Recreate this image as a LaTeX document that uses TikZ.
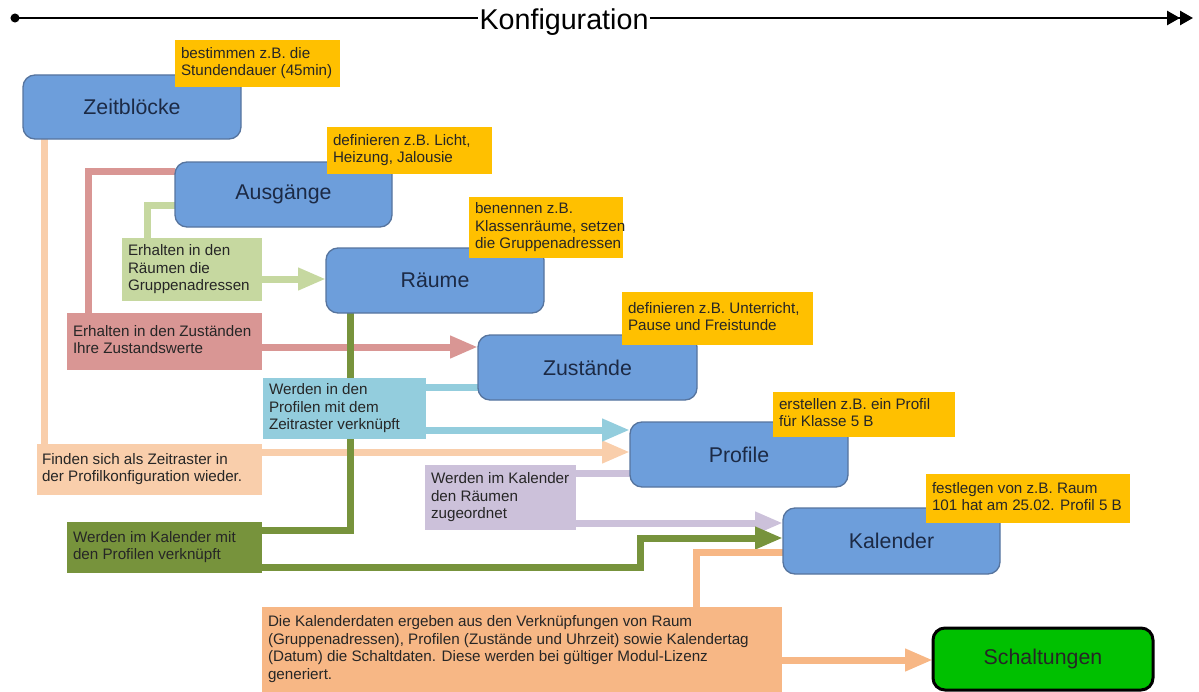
\documentclass[tikz,border=0pt]{standalone}
\usepackage{fontspec}
\setmainfont{Liberation Sans}
\usetikzlibrary{arrows.meta,backgrounds}
\newdimen\upx \upx=0.75pt
\newcommand\bxt[2]{\makebox[#1\upx][l]{\begin{tabular}{@{}l@{}}#2\end{tabular}}}
\definecolor{blkfill}{HTML}{6D9EDB}
\definecolor{blkdraw}{HTML}{56749E}
\definecolor{blktext}{HTML}{1C2A45}
\definecolor{labyel}{HTML}{FFC000}
\definecolor{clg}{HTML}{C6D8A0}
\definecolor{crd}{HTML}{D99694}
\definecolor{clb}{HTML}{93CDDD}
\definecolor{cpe}{HTML}{F9CEAB}
\definecolor{clv}{HTML}{CCC1DA}
\definecolor{cdg}{HTML}{77933C}
\definecolor{cor}{HTML}{F7B785}
\definecolor{csch}{HTML}{00C000}
\begin{document}
\begin{tikzpicture}[x=0.75pt,y=-0.75pt,
  blk/.style={draw=blkdraw, line width=1pt, fill=blkfill, rounded corners=9pt,
    text=blktext, font=\fontsize{16}{19}\selectfont, inner sep=0pt, outer sep=0pt, anchor=north west},
  lab/.style={fill=labyel, anchor=north west, inner xsep=4.5pt, inner ysep=0pt, outer sep=0pt,
    font=\fontsize{11.4}{13.3}\selectfont, text=black!85},
  desc/.style={lab, fill=#1},
  conn/.style={line width=5.25pt, draw=#1},
  arr/.style={-{Triangle[length=21pt,width=15.75pt]}},
  titleline/.style={line width=2pt, draw=black}
]
\useasboundingbox (0,0) rectangle (1199,692);

% title
\node[anchor=base, inner xsep=0.75pt, inner ysep=0pt, font=\fontsize{21.5}{25}\selectfont] (title) at (564,30) {Konfiguration};
\coordinate (tstart) at (15,18);
\coordinate (tend) at (1193,18);
\fill (tstart) circle (3.4pt);
\draw[titleline] (tstart) -- (title.west |- tstart);
\draw[titleline, -{Triangle[length=9.75pt,width=10.5pt]Triangle[length=9.75pt,width=10.5pt]}] (title.east |- tend) -- (tend);

% main blocks
\node[blk, minimum width=218\upx, minimum height=64\upx] (zb) at (23,75) {Zeitblöcke};
\node[blk, minimum width=217\upx, minimum height=65\upx] (aus) at (175,162) {Ausgänge};
\node[blk, minimum width=218\upx, minimum height=65\upx] (rau) at (326,248) {Räume};
\node[blk, minimum width=219\upx, minimum height=65\upx] (zus) at (478,335) {Zustände};
\node[blk, minimum width=218\upx, minimum height=65\upx] (prof) at (630,422) {Profile};
\node[blk, minimum width=217\upx, minimum height=66\upx] (kal) at (783,508) {Kalender};
\node[blk, draw=black, line width=2.25pt, fill=csch, text=black!85, minimum width=220\upx, minimum height=62\upx] (sch) at (933,628) {Schaltungen};

% yellow labels
\node[lab, minimum height=47\upx] (l1) at (175,40) {\bxt{153}{bestimmen z.B. die\\Stundendauer (45min)}};
\node[lab, minimum height=47\upx] (l2) at (327,127) {\bxt{153}{definieren z.B. Licht,\\Heizung, Jalousie}};
\node[lab, minimum height=61\upx] (l3) at (469,197) {\bxt{142}{benennen z.B.\\Klassenräume, setzen\\die Gruppenadressen}};
\node[lab, minimum height=53\upx] (l4) at (622,292) {\bxt{179}{definieren z.B. Unterricht,\\Pause und Freistunde}};
\node[lab, minimum height=45\upx] (l5) at (773,392) {\bxt{170}{erstellen z.B. ein Profil\\für Klasse 5 B}};
\node[lab, minimum height=49\upx] (l6) at (926,474) {\bxt{192}{festlegen von z.B. Raum\\101 hat am 25.02. Profil 5 B}};

% description boxes
\node[desc=clg, minimum height=63\upx] (lg) at (122,238) {\bxt{128}{Erhalten in den\\Räumen die\\Gruppenadressen}};
\node[desc=crd, minimum height=57\upx] (rd) at (67,313) {\bxt{183}{Erhalten in den Zuständen\\Ihre Zustandswerte}};
\node[desc=clb, minimum height=61\upx] (lb) at (263,378) {\bxt{151}{Werden in den\\Profilen mit dem\\Zeitraster verknüpft}};
\node[desc=cpe, inner xsep=3.75pt, minimum height=51\upx] (pe) at (37,444) {\bxt{215}{Finden sich als Zeitraster in\\der Profilkonfiguration wieder.}};
\node[desc=clv, minimum height=65\upx] (lv) at (425,465) {\bxt{139}{Werden im Kalender\\den Räumen\\zugeordnet}};
\node[desc=cdg, minimum height=51\upx] (dg) at (67,522) {\bxt{183}{Werden im Kalender mit\\den Profilen verknüpft}};
\node[desc=cor, minimum height=85\upx] (orb) at (262,607) {\bxt{508}{Die Kalenderdaten ergeben aus den Verknüpfungen von Raum\\(Gruppenadressen), Profilen (Zustände und Uhrzeit) sowie Kalendertag\\(Datum) die Schaltdaten. Diese werden bei gültiger Modul-Lizenz\\generiert.}};

% connectors
\begin{scope}[on background layer]
  \draw[conn=cpe] (zb.south -| 44,0) -- (pe.north -| 44,0);
  \draw[conn=cpe, arr] (pe.east |- 0,452) -- (prof.west |- 0,452);
  \draw[conn=crd] (aus.west |- 0,171) -| (rd.north -| 88,0);
  \draw[conn=crd, arr] (rd.east |- 0,347) -- (zus.west |- 0,347);
  \draw[conn=clg] (aus.west |- 0,205) -| (lg.north -| 147,0);
  \draw[conn=clg, arr] (lg.east |- 0,279) -- (rau.west |- 0,279);
  \draw[conn=clb] (zus.west |- 0,387) -- (lb.east |- 0,387);
  \draw[conn=clb, arr] (lb.east |- 0,430) -- (prof.west |- 0,430);
  \draw[conn=clv] (prof.west |- 0,473) -- (lv.east |- 0,473);
  \draw[conn=clv, arr] (lv.east |- 0,523) -- (kal.west |- 0,523);
  \draw[conn=cdg] (rau.south -| 350,0) |- (dg.east |- 0,530);
  \draw[conn=cdg, arr] (dg.east |- 0,567) -| (640,538) -- (kal.west |- 0,538);
  \draw[conn=cor] (kal.west |- 0,552) -| (orb.north -| 696,0);
  \draw[conn=cor, arr] (orb.east |- 0,660) -- (sch.west |- 0,660);
\end{scope}
\end{tikzpicture}
\end{document}
